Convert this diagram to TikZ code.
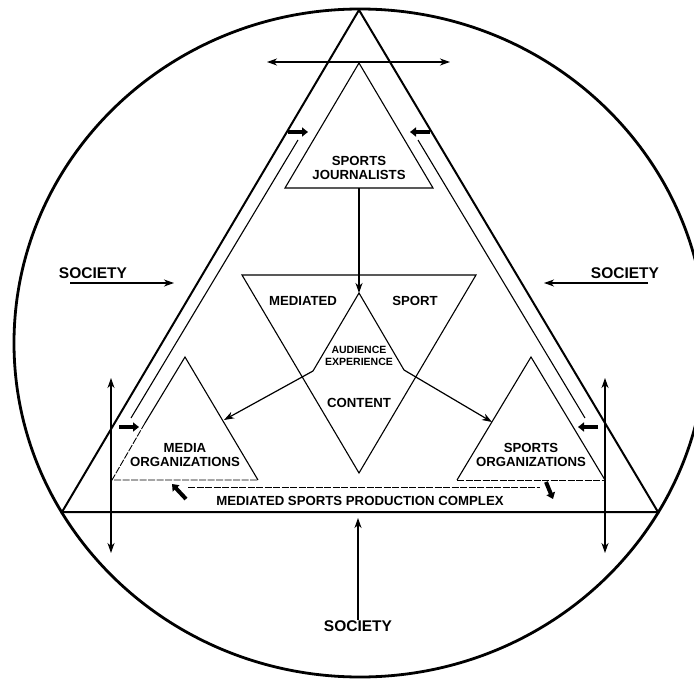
\documentclass[tikz,border=0pt]{standalone}
\usepackage{fontspec}
\setmainfont{Liberation Sans}
\usetikzlibrary{arrows.meta}
\begin{document}
\begin{tikzpicture}[x=1pt,y=-1pt,
  lbl/.style={font=\bfseries\fontsize{13.2}{14.5}\selectfont, inner sep=0pt, align=center},
  smalllbl/.style={font=\bfseries\fontsize{10.5}{12.5}\selectfont, inner sep=0pt, align=center},
  soc/.style={font=\bfseries\fontsize{15.5}{18}\selectfont, inner sep=0pt},
  thinline/.style={line width=1.1pt},
  faint/.style={line width=0.9pt, dash pattern=on 7pt off 1.5pt},
  arr/.style={line width=1.2pt, -{Stealth[length=10pt,width=7pt,inset=3pt]}},
  darr/.style={line width=1.2pt, {Stealth[length=10pt,width=7pt,inset=3pt]}-{Stealth[length=10pt,width=7pt,inset=3pt]}},
  blob/.style={line width=4pt, -{Triangle[length=6pt,width=9pt]}},
]
\useasboundingbox (0,0) rectangle (694,680);

% outer circle
\draw[line width=2.8pt] (360,343) ellipse [x radius=346, y radius=334];

% big triangle
\coordinate (A) at (359,10);
\coordinate (BL) at (62,512);
\coordinate (BR) at (658,512);
\draw[line width=2pt] (A) -- (BL) -- (BR) -- cycle;

% inner parallel lines
\coordinate (il1) at (298,140);
\coordinate (il2) at (131,418);
\coordinate (ir1) at (418,140);
\coordinate (ir2) at (585,418);
\draw[thinline] (il1) -- (il2);
\draw[thinline] (ir1) -- (ir2);

% sports journalists triangle
\coordinate (J1) at (359,63);
\coordinate (J2) at (285,188);
\coordinate (J3) at (433,188);
\draw[thinline] (J1) -- (J2) -- (J3) -- cycle;
\coordinate (Jb) at (359,188);

% top double arrow
\coordinate (ta1) at (267,62);
\coordinate (ta2) at (450,62);
\draw[darr] (ta1) -- (ta2);

% inverted triangle
\coordinate (M1) at (242,275);
\coordinate (M2) at (476,275);
\coordinate (M3) at (359,473);
\draw[thinline] (M1) -- (M2) -- (M3) -- cycle;

% audience triangle
\coordinate (X1) at (359,293);
\coordinate (X2) at (313,371);
\coordinate (X3) at (404,370);
\draw[thinline] (X2) -- (X1) -- (X3);

% media organizations triangle
\coordinate (O1) at (185,357);
\coordinate (O2) at (112,480);
\coordinate (O3) at (258,480);
\draw[thinline] (O3) -- (O1) -- (145,423);
\draw[faint] (145,423) -- (O2) -- (O3);

% sports organizations triangle
\coordinate (S1) at (531,357);
\coordinate (S2) at (457,480);
\coordinate (S3) at (605,480);
\draw[thinline] (S2) -- (S1) -- (S3);
\draw[faint] (S2) -- (S3);

% second line of production complex
\draw[faint] (188,487) -- (540,487);

% vertical double arrows
\coordinate (vl1) at (111,378);
\coordinate (vl2) at (111,553);
\coordinate (vr1) at (605,378);
\coordinate (vr2) at (605,553);
\draw[darr] (vl1) -- (vl2);
\draw[darr] (vr1) -- (vr2);

% texts
\node[lbl] (jour) at (359,168) {SPORTS\\JOURNALISTS};
\node[lbl] (med) at (303,301) {MEDIATED};
\node[lbl] (spo) at (415,301) {SPORT};
\node[smalllbl] (aud) at (359,356) {AUDIENCE\\EXPERIENCE};
\node[lbl] (con) at (359,403) {CONTENT};
\node[lbl] (mo) at (185,455) {MEDIA\\ORGANIZATIONS};
\node[lbl] (so) at (531,455) {SPORTS\\ORGANIZATIONS};
\node[lbl] (pc) at (360,501) {MEDIATED SPORTS PRODUCTION COMPLEX};
\node[soc] (socL) at (93,273) {SOCIETY};
\node[soc] (socR) at (625,273) {SOCIETY};
\node[soc] (socB) at (358,626) {SOCIETY};

% arrows between elements
\coordinate (moR) at (224,420);
\coordinate (soL) at (492,422);
\draw[arr] (Jb) -- (X1);
\draw[arr] (X2) -- (moR);
\draw[arr] (X3) -- (soL);

% society arrows
\coordinate (sLe) at (174,283);
\coordinate (sRe) at (544,283);
\coordinate (sBe) at (358,518);
\draw[arr] (70,283) -- (sLe);
\draw[arr] (648,283) -- (sRe);
\draw[arr] (socB.north) -- (sBe);

% small thick arrows
\draw[blob] (288,132) -- (308,132);
\draw[blob] (430,132) -- (410,132);
\draw[blob] (119,427) -- (139,427);
\draw[blob] (598,427) -- (578,427);
\draw[blob] (186,499) -- (172,484);
\draw[blob] (546,482) -- (553,499);
\end{tikzpicture}
\end{document}
